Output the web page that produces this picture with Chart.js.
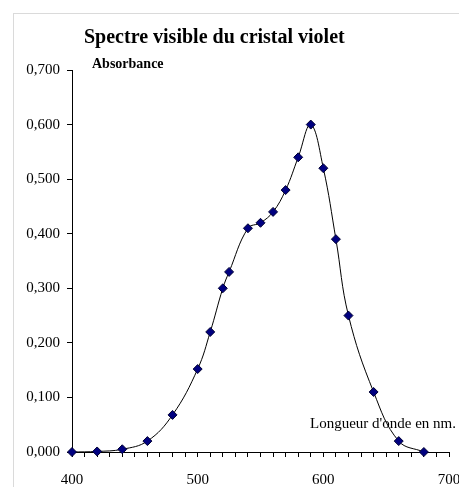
<!DOCTYPE html>
<html>
<head>
<meta charset="utf-8">
<script src="https://cdn.jsdelivr.net/npm/chart.js@4/dist/chart.umd.min.js"></script>
<style>
  html, body { margin: 0; padding: 0; background: #fff; }
  #wrap { position: relative; width: 459px; height: 487px; overflow: hidden; }
  #frame { position: absolute; left: 13px; top: 13px; right: -5px; bottom: -5px;
           border-left: 1px solid #dadada; border-top: 1px solid #dadada; pointer-events: none; }
</style>
</head>
<body>
<div id="wrap">
  <canvas id="chart"></canvas>
  <div id="frame"></div>
</div>
<script>
// Spectre visible du cristal violet
const wavelengths = [400, 420, 440, 460, 480, 500, 510, 520, 525, 540, 550, 560, 570, 580, 590, 600, 610, 620, 640, 660, 680];
const absorbance = [0, 0.001, 0.005, 0.02, 0.068, 0.152, 0.22, 0.30, 0.33, 0.41, 0.42, 0.44, 0.48, 0.54, 0.60, 0.52, 0.39, 0.25, 0.11, 0.02, 0];

const chartTitle = 'Spectre visible du cristal violet';
const yLabel = 'Absorbance';
const xLabel = "Longueur d'onde en nm.";

const serif = '"Liberation Serif", "Times New Roman", serif';

// Draw the title and the two axis captions inside the canvas
const captionPlugin = {
  id: 'captions',
  afterDraw(chart) {
    const ctx = chart.ctx;
    const area = chart.chartArea;
    ctx.save();
    ctx.fillStyle = '#000';
    ctx.textBaseline = 'alphabetic';
    ctx.textAlign = 'left';
    ctx.font = 'bold 20px ' + serif;
    ctx.fillText(chartTitle, area.left + 12, 43);
    ctx.font = 'bold 14px ' + serif;
    ctx.fillText(yLabel, area.left + 20, 68);
    ctx.font = '15px ' + serif;
    ctx.textAlign = 'right';
    ctx.fillText(xLabel, 456, 428);
    ctx.restore();
  }
};

const points = wavelengths.map((w, i) => ({ x: w, y: absorbance[i] }));

new Chart(document.getElementById('chart'), {
  type: 'line',
  data: {
    datasets: [{
      data: points,
      borderColor: '#000',
      borderWidth: 1,
      tension: 0.4,
      pointStyle: 'rectRot',
      pointRadius: 4.5,
      pointBackgroundColor: '#000080',
      pointBorderColor: '#000033',
      pointBorderWidth: 1,
      fill: false,
      clip: false,
    }],
  },
  options: {
    responsive: true,
    maintainAspectRatio: false,
    animation: false,
    layout: { padding: { left: 0, top: 70, right: 10, bottom: 0 } },
    plugins: {
      legend: { display: false },
      title: { display: false },
      tooltip: { enabled: false },
    },
    scales: {
      x: {
        type: 'linear',
        min: 400,
        max: 700,
        afterFit: (scale) => {
          scale.height = 35;
          scale.paddingLeft = 0;
          scale.paddingRight = 0;
        },
        border: { display: true, color: '#000', width: 1 },
        grid: { drawOnChartArea: false, drawTicks: true, tickLength: 5, tickColor: '#000' },
        ticks: {
          stepSize: 10,
          autoSkip: false,
          maxRotation: 0,
          padding: 14,
          color: '#000',
          font: { family: serif, size: 15 },
          callback: (v) => (v % 100 === 0 ? String(v) : ''),
        },
      },
      y: {
        min: 0,
        max: 0.7,
        afterFit: (scale) => {
          scale.width = 72;
          scale.paddingTop = 0;
          scale.paddingBottom = 0;
        },
        border: { display: true, color: '#000', width: 1 },
        grid: { drawOnChartArea: false, drawTicks: true, tickLength: 5, tickColor: '#000' },
        ticks: {
          stepSize: 0.1,
          padding: 7,
          color: '#000',
          font: { family: serif, size: 15 },
          callback: (v) => v.toFixed(3).replace('.', ','),
        },
      },
    },
  },
  plugins: [captionPlugin],
});
</script>
</body>
</html>
